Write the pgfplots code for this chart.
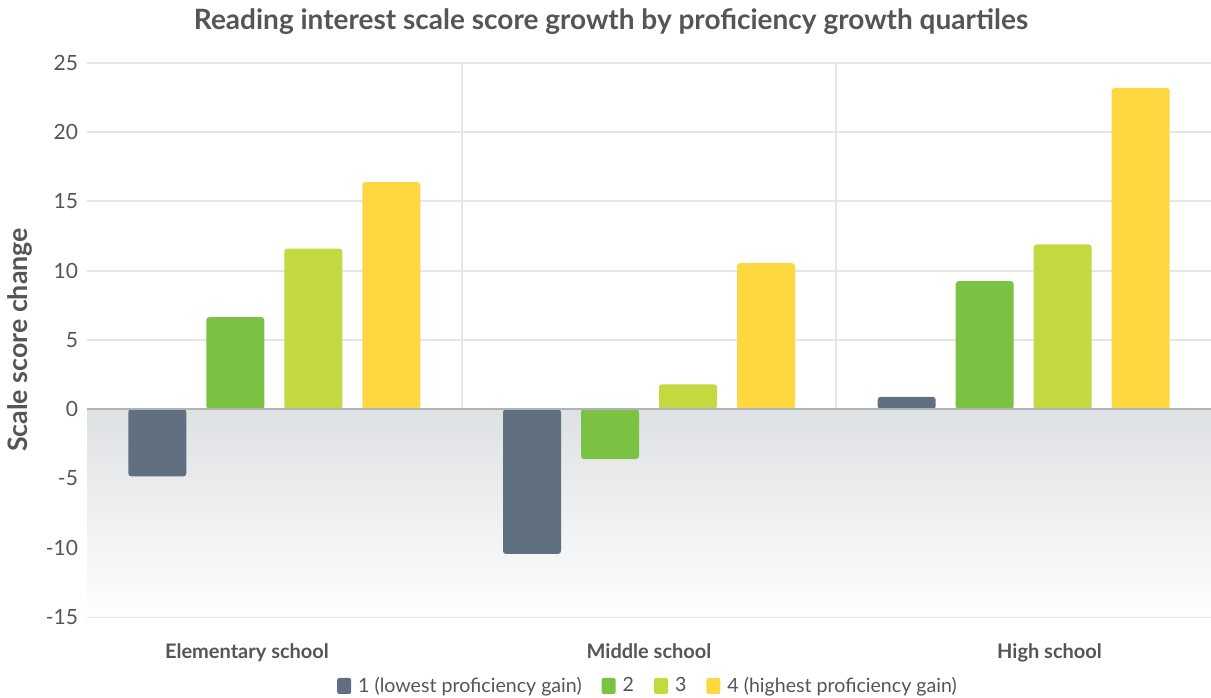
\documentclass[border=0pt]{standalone}
\usepackage{pgfplots}
\pgfplotsset{compat=1.18}
\usepackage{fontspec}
\setmainfont{Lato}
\definecolor{txt}{HTML}{555555}
\definecolor{cA}{HTML}{607080}
\definecolor{cB}{HTML}{7CC242}
\definecolor{cC}{HTML}{C3D93F}
\definecolor{cD}{HTML}{FFD740}
\definecolor{gridc}{HTML}{E6E6E6}
\definecolor{shadeTop}{RGB}{222,225,228}
\definecolor{shadeMid}{RGB}{246,247,248}
\definecolor{shadeBot}{RGB}{254,254,254}
\begin{document}
\begin{tikzpicture}
\begin{axis}[
  set layers=standard,
  scale only axis,
  width=562pt, height=277pt,
  xmin=-0.5, xmax=2.5, ymin=-15, ymax=25,
  ytick={-15,-10,...,25},
  xtick={-0.073,1,2.069},
  xticklabels={Elementary school, Middle school, High school},
  minor xtick={0.5,1.5},
  minor x grid style={gridc, line width=1pt},
  xminorgrids=true,
  ymajorgrids=true,
  major grid style={gridc, line width=1pt},
  axis line style={draw=none},
  major tick length=0pt, minor tick length=0pt,
  /pgf/number format/assume math mode=true,
  yticklabel style={font=\fontsize{10.5}{12}\selectfont, text=txt, xshift=-1pt},
  xticklabel style={font=\fontsize{10}{12}\selectfont\bfseries, text=txt, yshift=-10pt},
  ylabel={Scale score change},
  ylabel style={at={(axis description cs:-0.0596,0.5)}, anchor=center, font=\fontsize{13.4}{15}\selectfont\bfseries, text=txt},
  ybar=10pt, bar width=29pt,
  legend columns=4,
  legend style={at={(0.5,-0.1245)}, anchor=center, draw=none, fill=none,
    font=\fontsize{9.8}{11}\selectfont, text=txt,
    /tikz/every odd column/.append style={column sep=1.5pt},
    /tikz/every even column/.append style={column sep=8pt}},
  legend image code/.code={\path[#1, draw=none, rounded corners=1pt] (0pt,-4pt) rectangle (7pt,4pt);},
]
\fill[on layer=axis background, top color=shadeTop, middle color=shadeMid, bottom color=shadeBot] (axis cs:-0.5,0) rectangle (axis cs:2.5,-15);
\addplot[fill=cA, draw=none, rounded corners=1.5pt] coordinates {(0,-4.85) (1,-10.45) (2,0.9)};
\addplot[fill=cB, draw=none, rounded corners=1.5pt] coordinates {(0,6.65) (1,-3.6) (2,9.25)};
\addplot[fill=cC, draw=none, rounded corners=1.5pt] coordinates {(0,11.6) (1,1.8) (2,11.9)};
\addplot[fill=cD, draw=none, rounded corners=1.5pt] coordinates {(0,16.4) (1,10.55) (2,23.2)};
\legend{1 (lowest proficiency gain), 2, 3, 4 (highest proficiency gain)}
\draw[on layer=axis foreground, color={rgb,255:red,176;green,178;blue,181}, line width=1pt] (axis cs:-0.5,0) -- (axis cs:2.5,0);
\end{axis}
\node[font=\fontsize{14}{16}\selectfont\bfseries, text=txt, anchor=center] at ([xshift=-19pt, yshift=20.5pt]current axis.north) {Reading interest scale score growth by proficiency growth quartiles};
\pgfresetboundingbox
\path ([xshift=-43.5pt, yshift=-40.5pt]current axis.south west) rectangle ([yshift=31.5pt]current axis.north east);
\end{tikzpicture}
\end{document}
